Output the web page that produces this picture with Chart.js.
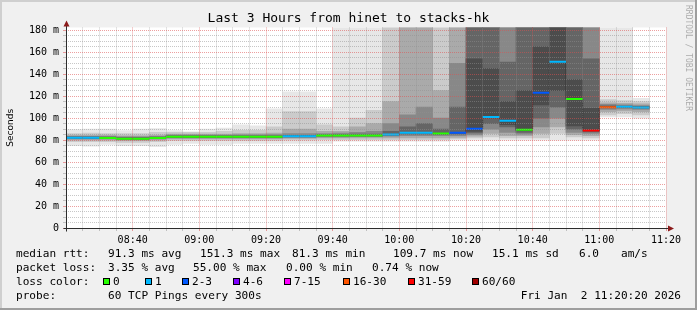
<!DOCTYPE html>
<html>
<head>
<meta charset="utf-8">
<title>Last 3 Hours from hinet to stacks-hk</title>
<script src="https://cdn.jsdelivr.net/npm/chart.js@4.4.1/dist/chart.umd.min.js"></script>
<style>
  html, body { margin: 0; padding: 0; background: #f0f0f0; }
  canvas { display: block; }
</style>
</head>
<body>
<canvas id="smoke" width="697" height="310"></canvas>
<script>
// 5 minute steps, 08:20 .. 11:10 (start of each step)
const steps = ['08:20','08:25','08:30','08:35','08:40','08:45','08:50','08:55','09:00','09:05',
  '09:10','09:15','09:20','09:25','09:30','09:35','09:40','09:45','09:50','09:55',
  '10:00','10:05','10:10','10:15','10:20','10:25','10:30','10:35','10:40','10:45',
  '10:50','10:55','11:00','11:05','11:10'];
const timeLabels = ['08:40','09:00','09:20','09:40','10:00','10:20','10:40','11:00','11:20'];
const yLabels = ['0','20 m','40 m','60 m','80 m','100 m','120 m','140 m','160 m','180 m'];

// median rtt (ms) and loss class per step
const median = [82.1,82.1,82.0,81.3,81.3,82.0,83.0,83.0,83.0,83.0,83.0,83.0,83.0,83.6,83.6,
  84.2,84.2,84.2,84.2,85.1,86.7,86.7,86.1,86.7,90.3,101.0,97.6,89.4,123.0,151.3,117.5,88.8,
  110.0,110.3,109.7];
const lossClass = [1,1,0,0,0,0,0,0,0,0,0,0,0,1,1,0,0,0,0,1,1,1,0,2,2,1,1,0,2,1,0,6,5,1,1];

const lossNames = ['0','1','2-3','4-6','7-15','16-30','31-59','60/60'];
const lossColors = ['#26ff00','#00b8ff','#0059ff','#7e00ff','#ff00ff','#ff5500','#ff0000','#a10000'];

// smoke: ping spread layers, outer (light) to inner (dark), ms
const smoke0Lo = [75,74.5,76,75,75,74,76,77,76,76,77,77,77,77,77,77,79,79,79,79,79,79,79,
  80,80,80,80,80,80,80,80,80,101,101,100];
const smoke0Hi = [89.5,90,90,88.6,90,90.6,88.6,87.5,90,91,94,93,108.4,124,124,108.4,
  260,260,260,260,260,260,260,260,260,260,260,260,260,260,260,260,260,260,118];
const smoke1Lo = [78.5,78.5,78.5,78,78,78.5,79.5,79.5,79.5,79.5,79.5,79.5,79.5,80,80,
  80.5,80.5,80.5,80.5,80.5,80.5,80.5,80.5,81,82,83,82,82,82,86,83,82,103,104,103];
const smoke1Hi = [86,86.5,86,86,86,87,87,87,87,88,89,89,92,106,106,94,92,100,107,
  260,260,260,260,260,260,260,260,260,260,260,260,260,117,116,115];
const smoke2Lo = [80,80,80,79.5,79.5,80,81,81,81,81,81,81,81,81.5,81.5,82,82,82,82,82,82,82,82,
  82.5,83.5,86,84,84,86,92,85,84,106,106.5,106];
const smoke2Hi = [84.5,84.5,84.5,84,84,84.5,85.5,85.5,85.5,85.5,86,86,86.5,90,90,88,88,92,95,115,
  260,260,125,260,260,260,260,260,260,260,260,260,114,113.5,113];
const smoke3Lo = [81,81,81,80.5,80.5,81,82,82,82,82,82,82,82,82.5,82.5,83,83,83.2,83.2,83.5,
  84,84,84,84,85,90,87,85.5,92,100,87,86,108,108.5,108];
const smoke3Hi = [83.5,83.5,83.5,83,83,83.5,84.5,84.5,84.5,84.5,84.7,84.7,85,86,86,86,86.5,87,88,
  95,103,110,100,150,260,260,260,260,260,260,260,260,112.5,112,111.5];
const smoke4Lo = [81.5,81.5,81.5,81,81,81.5,82.5,82.5,82.5,82.5,82.5,82.5,82.5,83,83,
  83.6,83.6,83.6,83.6,84.3,85.5,85.5,85,85.5,86.5,95,92,87,100,110,90,87.5,109.2,109.5,109];
const smoke4Hi = [82.9,82.9,82.8,82.3,82.3,82.8,83.8,83.8,83.8,83.8,83.8,83.8,83.8,84.4,84.4,
  85,85.2,85.5,85.5,88,92,95,90,110,260,260,151,260,260,260,260,154,111.3,111,110.8];
const smoke5Lo = [null,null,null,null,null,null,null,null,null,null,null,null,null,null,null,
  null,null,null,null,null,null,null,null,null,88,100,94,88.5,112,125,93,88.3,null,null,null];
const smoke5Hi = [null,null,null,null,null,null,null,null,null,null,null,null,null,null,null,
  null,null,null,null,null,null,null,null,null,154,145,115,125,165,260,135,109,null,null,null];

const rttStats = [['median rtt:', 16], ['91.3 ms avg', 108], ['151.3 ms max', 200],
  ['81.3 ms min', 292], ['109.7 ms now', 393], ['15.1 ms sd', 492], ['6.0', 579], ['am/s', 621]];
const lossStats = [['packet loss:', 16], ['3.35 % avg', 108], ['55.00 % max', 193],
  ['0.00 % min', 286], ['0.74 % now', 372]];
const lossBoxX = [103, 145, 182, 233, 284, 343, 408, 472];

const MONO = '"DejaVu Sans Mono", monospace';
const MAJOR = 'rgba(222,80,80,0.55)';
const MINOR = 'rgba(143,143,143,0.5)';

// minutes after 08:20, middle of the step
const stepMid = t => {
  const [h, m] = t.split(':').map(Number);
  return h * 60 + m - (8 * 60 + 20) + 2.5;
};

const layers = [
  [smoke5Lo, smoke5Hi, '#4c4c4c'],
  [smoke4Lo, smoke4Hi, '#656565'],
  [smoke3Lo, smoke3Hi, '#888888'],
  [smoke2Lo, smoke2Hi, '#aaaaaa'],
  [smoke1Lo, smoke1Hi, '#cbcbcb'],
  [smoke0Lo, smoke0Hi, '#e7e7e7']
];

const smokeSets = layers.map(([lo, hi, color], k) => ({
  type: 'bar',
  data: steps.map((t, i) => ({ x: stepMid(t), y: lo[i] == null ? null : [lo[i], hi[i]] })),
  backgroundColor: color,
  borderWidth: 0,
  grouped: false,
  barPercentage: 1,
  categoryPercentage: 1,
  order: 2 + k
}));

const medianPoints = steps.map((t, i) => ({ x: stepMid(t), y: median[i] }));

const datasets = [
  {
    type: 'line',
    data: medianPoints,
    showLine: false,
    pointStyle: 'line',
    pointRadius: 8.34,
    pointBorderWidth: 2,
    pointBorderColor: lossClass.map(c => lossColors[c]),
    pointBackgroundColor: lossClass.map(c => lossColors[c]),
    order: 0
  },
  {
    type: 'line',
    data: medianPoints,
    stepped: 'middle',
    borderColor: '#202020',
    borderWidth: 1,
    borderDash: [1, 1],
    pointRadius: 0,
    fill: false,
    order: 1
  },
  ...smokeSets
];

const frame = {
  id: 'frame',
  beforeDraw(chart) {
    const { ctx, chartArea: a, width, height } = chart;
    ctx.save();
    ctx.fillStyle = '#f0f0f0';
    ctx.fillRect(0, 0, width, height);
    ctx.fillStyle = '#cfcfcf';
    ctx.fillRect(0, 0, width, 2);
    ctx.fillRect(0, 0, 2, height);
    ctx.fillStyle = '#9e9e9e';
    ctx.fillRect(0, height - 2, width, 2);
    ctx.fillRect(width - 2, 0, 2, height);
    ctx.fillStyle = '#ffffff';
    ctx.fillRect(a.left + 1, a.top, a.right - a.left - 1, a.bottom - a.top);
    ctx.restore();
  },
  afterDraw(chart) {
    const { ctx, chartArea: a, width } = chart;
    const x0 = Math.round(a.left) + 0.5;
    const y0 = Math.round(a.bottom) + 0.5;
    ctx.save();
    // axes
    ctx.strokeStyle = '#2c2c2c';
    ctx.lineWidth = 1;
    ctx.beginPath();
    ctx.moveTo(x0, y0 + 3);
    ctx.lineTo(x0, a.top - 3);
    ctx.moveTo(x0 - 3, y0);
    ctx.lineTo(a.right + 4, y0);
    ctx.stroke();
    ctx.fillStyle = '#8b1a1a';
    ctx.beginPath();
    ctx.moveTo(x0, a.top - 7);
    ctx.lineTo(x0 - 3, a.top - 1);
    ctx.lineTo(x0 + 3, a.top - 1);
    ctx.closePath();
    ctx.fill();
    ctx.beginPath();
    ctx.moveTo(a.right + 8, y0);
    ctx.lineTo(a.right + 2, y0 - 3);
    ctx.lineTo(a.right + 2, y0 + 3);
    ctx.closePath();
    ctx.fill();

    // title
    ctx.fillStyle = '#000';
    ctx.textBaseline = 'middle';
    ctx.textAlign = 'center';
    ctx.font = '13px ' + MONO;
    ctx.fillText('Last 3 Hours from hinet to stacks-hk', width / 2, 19);

    // legend rows
    ctx.textAlign = 'left';
    ctx.font = '11.1px ' + MONO;
    rttStats.forEach(([s, x]) => ctx.fillText(s, x, 254));
    lossStats.forEach(([s, x]) => ctx.fillText(s, x, 268));
    ctx.fillText('loss color:', 16, 282);
    lossNames.forEach((name, i) => {
      const bx = lossBoxX[i];
      ctx.fillStyle = lossColors[i];
      ctx.fillRect(bx, 278, 7, 7);
      ctx.strokeStyle = '#000';
      ctx.strokeRect(bx + 0.5, 278.5, 6, 6);
      ctx.fillStyle = '#000';
      ctx.fillText(name, bx + 10, 282);
    });
    ctx.fillText('probe:', 16, 296);
    ctx.fillText('60 TCP Pings every 300s', 108, 296);
    ctx.textAlign = 'right';
    ctx.fillText('Fri Jan  2 11:20:20 2026', 681, 296);

    // watermark
    ctx.translate(688, 5);
    ctx.rotate(Math.PI / 2);
    ctx.textAlign = 'left';
    ctx.font = '8px ' + MONO;
    ctx.fillStyle = 'rgba(0,0,0,0.3)';
    ctx.fillText('RRDTOOL / TOBI OETIKER', 0, 0);
    ctx.restore();
  }
};

new Chart(document.getElementById('smoke'), {
  type: 'bar',
  data: { datasets },
  options: {
    responsive: false,
    animation: false,
    events: [],
    devicePixelRatio: 1,
    layout: { padding: { left: 0, right: 31, top: 27.5, bottom: 62 } },
    plugins: { legend: { display: false }, tooltip: { enabled: false } },
    scales: {
      x: {
        type: 'linear',
        min: 0,
        max: 180,
        offset: false,
        afterFit: s => { s.height = 20; },
        grid: {
          offset: false,
          z: 1,
          color: c => (c.tick.value % 20 === 0 ? MAJOR : MINOR),
          tickColor: c => (c.tick.value % 20 === 0 ? MAJOR : MINOR),
          tickLength: 3
        },
        border: { display: false, dash: [1, 1] },
        ticks: {
          stepSize: 5,
          autoSkip: false,
          maxRotation: 0,
          padding: 3,
          color: '#000',
          font: { family: MONO, size: 10 },
          callback: v => (v > 0 && v % 20 === 0 ? timeLabels[v / 20 - 1] : '')
        }
      },
      y: {
        min: 0,
        max: 182.5,
        afterFit: s => { s.width = 66; },
        // one tick every 5 ms up to 180, labels every 20
        afterBuildTicks: s => { s.ticks = Array.from({ length: 37 }, (_, i) => ({ value: i * 5 })); },
        grid: {
          z: 1,
          color: c => (c.tick.value % 20 === 0 ? MAJOR : MINOR),
          tickColor: c => (c.tick.value % 20 === 0 ? MAJOR : MINOR),
          tickLength: 3
        },
        border: { display: false, dash: [1, 1] },
        title: {
          display: true,
          text: 'Seconds',
          color: '#000',
          font: { family: '"DejaVu Sans", sans-serif', size: 9 },
          padding: { top: 5, bottom: 0 }
        },
        ticks: {
          autoSkip: false,
          padding: 4,
          color: '#000',
          font: { family: MONO, size: 10 },
          callback: v => (v % 20 === 0 ? yLabels[v / 20] : '')
        }
      }
    }
  },
  plugins: [frame]
});
</script>
</body>
</html>
